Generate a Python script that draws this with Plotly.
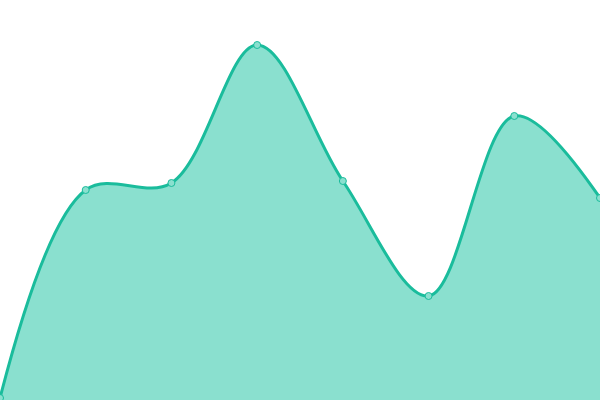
import plotly.graph_objects as go

# values (0 = bottom edge, 400 = top edge)
x_vals = [0, 1, 2, 3, 4, 5, 6, 7]
y_vals = [2, 210, 217, 355, 219, 104, 284, 202]

line_color = "#1abc9c"
fill_color = "#8ae0cf"

fig = go.Figure()
fig.add_trace(go.Scatter(
    x=x_vals,
    y=y_vals,
    mode="lines+markers",
    line=dict(color=line_color, width=3, shape="spline", smoothing=1),
    fill="tozeroy",
    fillcolor=fill_color,
    marker=dict(size=7, color=fill_color, line=dict(color=line_color, width=1)),
    hoverinfo="x+y",
    cliponaxis=False,
))

fig.update_layout(
    width=600,
    height=400,
    margin=dict(l=0, r=0, t=0, b=0),
    paper_bgcolor="white",
    plot_bgcolor="white",
    showlegend=False,
    xaxis=dict(range=[0, 7], visible=False, fixedrange=True),
    yaxis=dict(range=[0, 400], visible=False, fixedrange=True),
)

# page has a default 8px body margin, drop it so the chart fills the window
fig.write_html(
    "out.html",
    config={"displayModeBar": False},
    post_script="document.body.style.margin='0';document.body.style.overflow='hidden';",
)
